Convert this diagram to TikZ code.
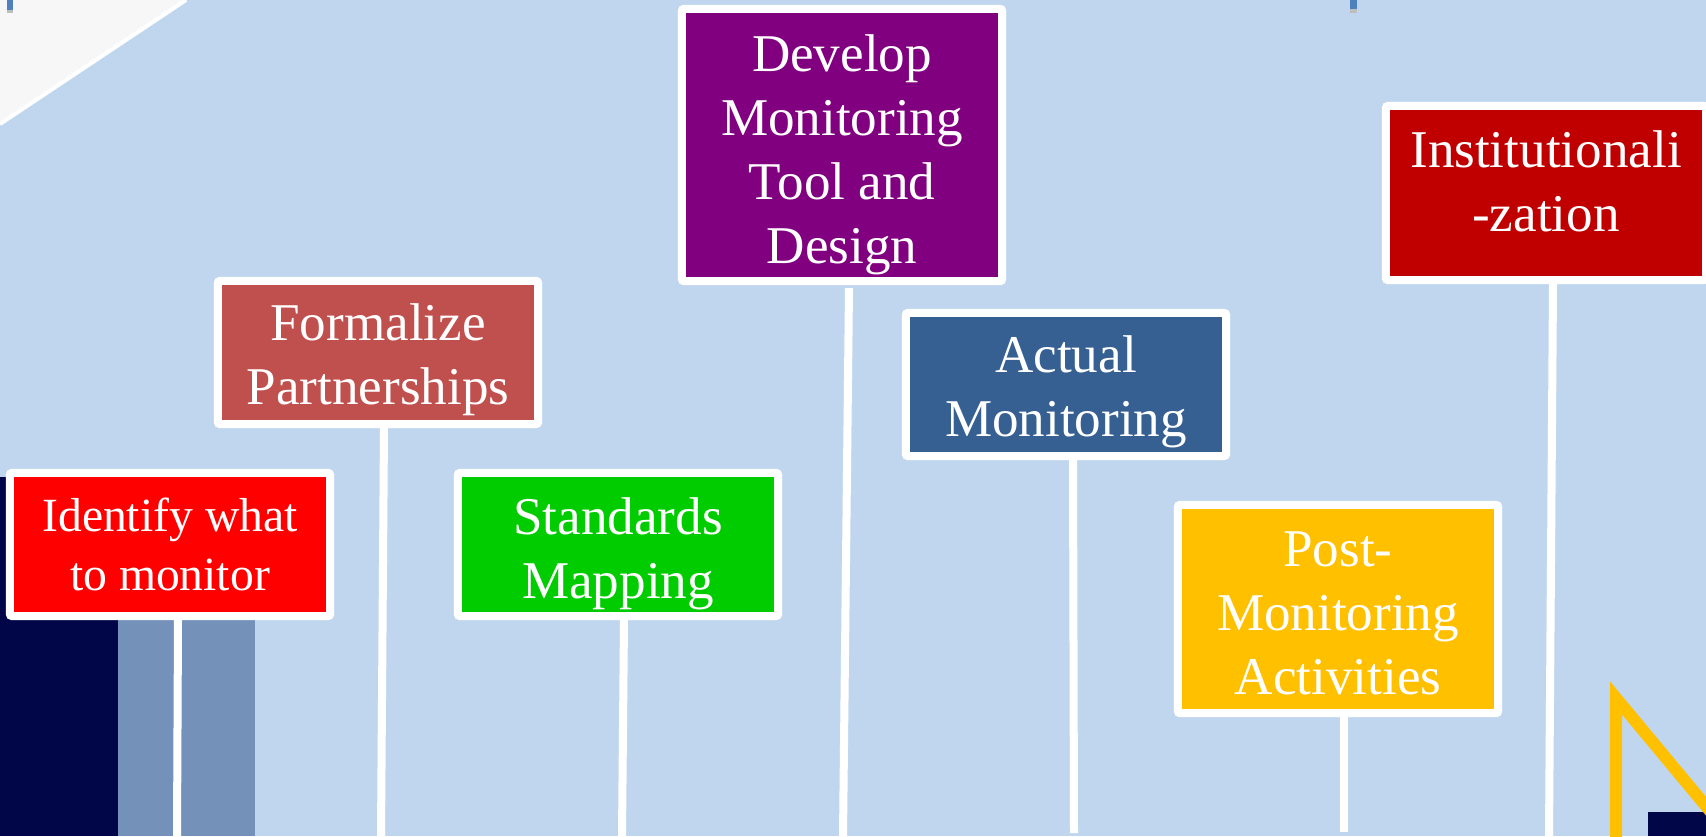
\documentclass[tikz,border=0pt]{standalone}
\usepackage{fontspec}
\setmainfont{Liberation Serif}
\usetikzlibrary{calc}
\definecolor{skyback}{RGB}{192,214,239}
\definecolor{paperwhite}{RGB}{247,247,247}
\definecolor{markblue}{RGB}{79,129,189}
\definecolor{markgrey}{RGB}{190,190,190}
\definecolor{deepnavy}{RGB}{0,6,72}
\definecolor{steelblue}{RGB}{115,145,185}
\definecolor{goldline}{RGB}{255,192,0}
\definecolor{idred}{RGB}{255,0,0}
\definecolor{partnerred}{RGB}{192,80,77}
\definecolor{mapgreen}{RGB}{0,204,0}
\definecolor{toolpurple}{RGB}{128,0,128}
\definecolor{actualblue}{RGB}{54,96,146}
\definecolor{postgold}{RGB}{255,192,0}
\definecolor{instred}{RGB}{192,0,0}
% strut in the first line, pushes the text down a little
\newcommand{\signtop}[1][14.8pt]{\rule{0pt}{#1}}
% strut in the last line, lifts the text a little
\newcommand{\signfoot}[1][6.8pt]{\rule[-#1]{0pt}{#1}}

\begin{document}
\begin{tikzpicture}[x=0.01cm,y=-0.01cm]
    \tikzset{signbox/.style={draw=white, line width=0.08cm, rounded corners=0.02cm, text=white, align=center, inner sep=0pt, minimum width=3.2cm, minimum height=1.43cm, font=\fontsize{15.1}{18.2}\selectfont},
             pole/.style={draw=white, line width=0.08cm}}
    
    \coordinate (top_left) at (0,0);
    \coordinate (bottom_right) at (1706,836);
    \coordinate (id_foot) at (177,836);
    \coordinate (fp_foot) at (381,836);
    \coordinate (sm_foot) at (622,836);
    \coordinate (dm_foot) at (843,836);
    \coordinate (am_foot) at (1074,833);
    \coordinate (pm_foot) at (1344,832);
    \coordinate (in_foot) at (1549,836);
    
    \useasboundingbox (top_left) rectangle (bottom_right);
    \fill [skyback] (top_left) rectangle (bottom_right);
    %page corner top left
    \fill [paperwhite] (0,0) -- (184,0) -- (0,122) -- cycle;
    \draw [white, line width=0.04cm] (0,124) -- (186,0);
    \fill [markblue] (7,0) rectangle (13,10);
    \fill [markgrey] (7,10) rectangle (13,13);
    \fill [markblue] (1350,0) rectangle (1357,9);
    \fill [markgrey] (1350,9) rectangle (1357,13);
    %bars bottom left
    \fill [deepnavy] (0,477) rectangle (118,836);
    \fill [steelblue] (118,470) rectangle (255,836);
    %bottom right
    \fill [deepnavy] (1648,812) rectangle (bottom_right);
    \draw [goldline, line width=0.12cm, miter limit=20] (1616,840) -- (1616,698) -- (1730,835);
    
    %signs
    \node[signbox, fill=idred, font=\fontsize{13.55}{16.8}\selectfont] (identify) at (170,544.5) {Identify what\\to monitor};
    \node[signbox, fill=partnerred] (formalize) at (378,352.5) {\signtop Formalize\\Partnerships};
    \node[signbox, fill=mapgreen] (standards) at (618,544.5) {\signtop[15.6pt]Standards\\Mapping};
    \node[signbox, fill=toolpurple, minimum height=2.72cm] (develop) at (842,145) {\signtop[15.9pt]Develop\\Monitoring\\Tool and\\Design};
    \node[signbox, fill=actualblue] (actual) at (1066,384.5) {\signtop Actual\\Monitoring};
    \node[signbox, fill=postgold, minimum height=2.08cm] (post) at (1338,609) {\signtop[12.5pt]Post-\\Monitoring\\Activities};
    \node[signbox, fill=instred, minimum height=1.74cm] (inst) at (1546,193) {Institutionali\\-zation\signfoot};
    
    %poles
    \draw [pole] ($(identify.south)+(8,0)$) -- (id_foot);
    \draw [pole] ($(formalize.south)+(6,0)$) -- (fp_foot);
    \draw [pole] ($(standards.south)+(6,0)$) -- (sm_foot);
    \draw [pole] ($(develop.south)+(7,3)$) -- (dm_foot);
    \draw [pole] ($(actual.south)+(7,0)$) -- (am_foot);
    \draw [pole] ($(post.south)+(6,0)$) -- (pm_foot);
    \draw [pole] ($(inst.south)+(7,0)$) -- (in_foot);
\end{tikzpicture}
\end{document}
